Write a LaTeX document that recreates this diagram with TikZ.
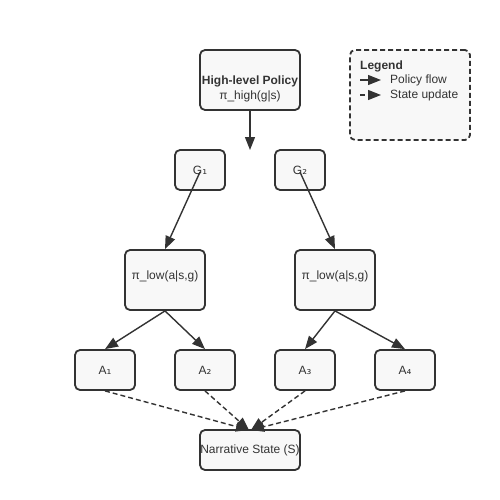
\documentclass[tikz,border=0pt]{standalone}
\usepackage{fontspec}
\setmainfont{Liberation Sans}
\newfontfamily\subfont{DejaVu Sans}
\usetikzlibrary{arrows.meta}
\definecolor{ink}{HTML}{333333}
\definecolor{boxfill}{HTML}{F8F8F8}
\newcommand{\sub}[1]{{\subfont #1}}
\tikzset{
  x=1pt,y=-1pt,
  nodebox/.style={draw=ink,fill=boxfill,line width=1.8pt,rounded corners=5pt,
    inner sep=0pt,text=ink,font=\fontsize{12}{15}\selectfont,align=center},
  txt/.style={text=ink,font=\fontsize{12}{15}\selectfont,align=center,inner sep=0pt},
  flow/.style={draw=ink,line width=1.4pt,-{Triangle[length=13pt,width=10pt]}},
  upd/.style={flow,dash pattern=on 5pt off 3pt},
  lbl/.style={text=ink,font=\fontsize{12}{14}\selectfont,inner sep=0pt,anchor=west}
}
\begin{document}
\begin{tikzpicture}
\useasboundingbox (0,0) rectangle (500,500);
% nodes
\node[nodebox,minimum width=100pt,minimum height=60pt] (high) at (250,80) {};
\node[txt] (hightext) at (250,89) {\textbf{High-level Policy}\\[-0.5pt]π\_high(g|s)};
\coordinate (hend) at (250,150);
\node[nodebox,minimum width=50pt,minimum height=40pt] (g1) at (200,170) {G\sub{₁}};
\node[nodebox,minimum width=50pt,minimum height=40pt] (g2) at (300,170) {G\sub{₂}};
\node[nodebox,minimum width=80pt,minimum height=60pt] (low1) at (165,280) {};
\node[txt] (low1t) at (165,276.5) {π\_low(a|s,g)};
\node[nodebox,minimum width=80pt,minimum height=60pt] (low2) at (335,280) {};
\node[txt] (low2t) at (335,276.5) {π\_low(a|s,g)};
\node[nodebox,minimum width=60pt,minimum height=40pt] (a1) at (105,370) {A\sub{₁}};
\node[nodebox,minimum width=60pt,minimum height=40pt] (a2) at (205,370) {A\sub{₂}};
\node[nodebox,minimum width=60pt,minimum height=40pt] (a3) at (305,370) {A\sub{₃}};
\node[nodebox,minimum width=60pt,minimum height=40pt] (a4) at (405,370) {A\sub{₄}};
\node[nodebox,minimum width=100pt,minimum height=40pt] (ns) at (250,450) {Narrative State (S)};
\coordinate (nsl) at (249,430);
\coordinate (nsr) at (251,430);
% connectors
\draw[flow] (high.south) -- (hend);
\draw[flow] (g1.center) ++(0,2) -- (low1.north);
\draw[flow] (g2.center) ++(0,2) -- (low2.north);
\draw[flow] (low1.south) -- (a1.north);
\draw[flow] (low1.south) -- (a2.north);
\draw[flow] (low2.south) -- (a3.north);
\draw[flow] (low2.south) -- (a4.north);
\draw[upd] (a1.south) -- (nsl);
\draw[upd] (a2.south) -- (nsl);
\draw[upd] (a3.south) -- (nsr);
\draw[upd] (a4.south) -- (nsr);
% legend
\node[draw=ink,fill=boxfill,line width=1.8pt,rounded corners=5pt,dash pattern=on 5pt off 3pt,
  minimum width=120pt,minimum height=90pt,inner sep=0pt] (legend) at (410,95) {};
\node[lbl,font=\fontsize{12}{14}\selectfont\bfseries] (lt) at (360,66.5) {Legend};
\coordinate (l1a) at (360,80);
\coordinate (l1b) at (381,80);
\coordinate (l2a) at (360,95);
\coordinate (l2b) at (381,95);
\draw[flow] (l1a) -- (l1b);
\draw[upd] (l2a) -- (l2b);
\node[lbl] (pf) at (390,80.5) {Policy flow};
\node[lbl] (su) at (390,95.5) {State update};
\end{tikzpicture}
\end{document}
